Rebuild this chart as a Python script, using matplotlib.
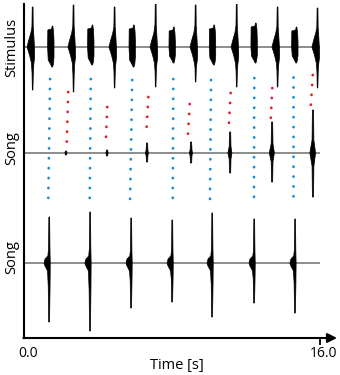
import matplotlib
matplotlib.use("Agg")
import matplotlib.pyplot as plt
import matplotlib.transforms as mtransforms

plt.rcParams['font.family'] = ['Open Sans', 'DejaVu Sans']

# trace baselines (vertical offsets, arbitrary units)
base_stim = 0
base_song1 = -106
base_song2 = -216

# stimulus bursts: time [s], upper / lower extent
stim_t = [0.38, 1.46, 2.59, 3.62, 4.81, 5.86, 7.03, 8.02, 9.19, 10.20, 11.41, 12.45, 13.62, 14.65, 15.78]
stim_top = [40, 18, 42, 19, 40, 19, 44, 17, 42, 19, 43, 21, 40, 17, 39]
stim_bot = [-43, -20, -45, -18, -41, -20, -40, -16, -35, -18, -40, -16, -40, -16, -41]
stim_kind = ['click', 'pulse'] * 7 + ['click']

# first song trace (answers grow over time)
song1_t = [2.27, 4.49, 6.65, 9.03, 11.14, 13.41, 15.62]
song1_top = [2, 3, 10, 11, 21, 31, 43]
song1_bot = [-2, -3, -9, -10, -20, -29, -44]

# second song trace
song2_t = [1.30, 3.51, 5.73, 7.95, 10.11, 12.38, 14.59]
song2_top = [46, 51, 45, 43, 50, 44, 44]
song2_bot = [-59, -68, -45, -39, -54, -40, -50]

# blue dotted columns (start -> end)
blue_t0 = [1.41, 3.61, 5.85, 8.07, 10.11, 12.45, 14.56]
blue_t1 = [1.31, 3.55, 5.73, 8.04, 10.05, 12.43, 14.56]
blue_y0 = [-32, -32, -33, -32, -33, -31, -30]
blue_y1 = [-155, -156, -156, -155, -157, -154, -153]

# red dotted columns
red_t0 = [2.39, 4.50, 6.72, 8.96, 11.17, 13.42, 15.61]
red_t1 = [2.31, 4.43, 6.63, 8.86, 11.08, 13.34, 15.50]
red_y0 = [-45, -60, -50, -57, -46, -41, -28]
red_y1 = [-96, -91, -80, -88, -76, -72, -59]

PX = 16 / 296  # seconds per pixel


def click_shape(a, b):
    return [(2.0, a), (2.2, 0.5 * a), (2.6, 15), (3.2, 4), (3.6, -4), (3.6, -10), (2.8, -17),
            (2.3, 0.6 * b), (1.9, b), (1.3, b), (1.0, 0.6 * b), (0.4, -16), (-1.5, -8),
            (-4.0, 0), (-2.5, 6), (-0.2, 14), (0.9, 0.5 * a), (1.2, a)]


def pulse_shape(a, b):
    return [(-3.2, a - 1), (0.6, a), (1.2, a + 3), (1.8, a + 3), (2.6, a - 3), (3.0, 0.3 * a),
            (3.0, 0.5 * b), (2.4, b + 3), (1.6, b), (0.8, b), (-0.6, b + 3), (-2.8, b + 7),
            (-3.4, 0)]


def song1_shape(a, b):
    w = min(2.6, 0.9 + 0.045 * max(a, -b))
    return [(0.6, a), (0.9, 0.3 * a), (w, 0), (0.9, 0.3 * b), (0.6, b),
            (-0.6, b), (-0.9, 0.3 * b), (-1.2 * w, 0), (-0.9, 0.3 * a), (-0.6, a)]


def song2_shape(a, b):
    return [(1.6, a), (1.9, 0.3 * a), (2.2, 0), (2.0, 0.4 * b), (1.5, b),
            (0.6, b), (0.2, 0.4 * b), (-0.5, -8), (-3.5, -2), (-4.0, 0),
            (-3.0, 4), (-0.2, 7), (0.5, 0.3 * a), (0.8, a)]


def draw_burst(ax, t, y0, a, b, shape):
    pts = shape(a, b)
    xs = [t + dx * PX for dx, _ in pts]
    ys = [y0 + y for _, y in pts]
    ax.fill(xs, ys, color='black', ec='black', lw=0.5, zorder=3)


fig = plt.figure(figsize=(3.4, 3.75), dpi=100)
ax = fig.add_axes([24 / 340, 37 / 375, 296 / 340, 334 / 375])
ax.set_xlim(0, 16)
ax.set_ylim(-291, 43)

# baselines
ax.plot([0.05, 16.1], [base_stim] * 2, color='#8c8c8c', lw=1.4, zorder=2)
ax.plot([0.05, 16.1], [base_song1] * 2, color='#8c8c8c', lw=1.4, zorder=2)
ax.plot([0.1, 15.93], [base_song2] * 2, color='#8c8c8c', lw=1.4, zorder=2)

for t, a, b, k in zip(stim_t, stim_top, stim_bot, stim_kind):
    draw_burst(ax, t, base_stim, a, b, click_shape if k == 'click' else pulse_shape)
for t, a, b in zip(song1_t, song1_top, song1_bot):
    draw_burst(ax, t, base_song1, a, b, song1_shape)
for t, a, b in zip(song2_t, song2_top, song2_bot):
    draw_burst(ax, t, base_song2, a, b, song2_shape)

# dotted columns
dot_lw = 2.0
gap = 9.9 * 0.72 / dot_lw
for x0, x1, y0, y1 in zip(blue_t0, blue_t1, blue_y0, blue_y1):
    ax.plot([x0, x1], [y0, y1], color='#1a8ad0', lw=dot_lw, linestyle=(0, (0.05, gap - 0.05)),
            dash_capstyle='round', zorder=4)
for x0, x1, y0, y1 in zip(red_t0, red_t1, red_y0, red_y1):
    ax.plot([x0, x1], [y0, y1], color='#e8192c', lw=dot_lw, linestyle=(0, (0.05, gap - 0.05)),
            dash_capstyle='round', zorder=4)

# axes styling
for s in ['top', 'right', 'bottom']:
    ax.spines[s].set_visible(False)
ax.spines['left'].set_linewidth(1.5)
ax.set_yticks([])
ax.set_xticks([0, 16])
ax.set_xticklabels(['0.0', '16.0'], fontsize=10)
ax.tick_params(axis='x', length=5, width=1.3, pad=1)
ax.xaxis.get_major_ticks()[0].tick1line.set_visible(False)
offset = mtransforms.ScaledTranslation(4 / 100, 0, fig.dpi_scale_trans)
for lbl in ax.get_xticklabels():
    lbl.set_transform(lbl.get_transform() + offset)

ax.annotate('', xy=(16.92, -291), xytext=(-0.04, -291), xycoords='data',
            arrowprops=dict(arrowstyle='-|>', lw=1.5, color='black', mutation_scale=14,
                            shrinkA=0, shrinkB=0), annotation_clip=False)

fig.text(177 / 340, 1 - 365 / 375, 'Time [s]', ha='center', va='center', fontsize=10.5)
fig.text(12 / 340, 1 - 47 / 375, 'Stimulus', ha='center', va='center', rotation=90, fontsize=10.5)
fig.text(12 / 340, 1 - 148 / 375, 'Song', ha='center', va='center', rotation=90, fontsize=10.5)
fig.text(12 / 340, 1 - 257 / 375, 'Song', ha='center', va='center', rotation=90, fontsize=10.5)

fig.savefig('out.png', dpi=100)
